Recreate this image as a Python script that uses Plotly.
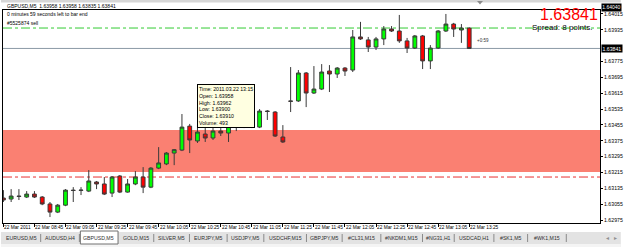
import plotly.graph_objects as go

# ---------------- data ----------------
times = ["08:25","08:30","08:35","08:40","08:45","08:50","08:55","09:00","09:05","09:10",
         "09:15","09:20","09:25","09:30","09:35","09:40","09:45","09:50","09:55","10:00",
         "10:05","10:10","10:15","10:20","10:25","10:30","10:35","10:40","10:45","10:50",
         "10:55","11:00","11:05","11:10","11:15","11:20","11:25","11:30","11:35","11:40",
         "11:45","11:50","11:55","12:00","12:05","12:10","12:15","12:20","12:25","12:30",
         "12:35","12:40","12:45","12:50","12:55","13:00","13:05","13:10","13:15","13:20","13:25"]

opens = [1.63086,1.63081,1.63096,1.63091,1.63106,1.63091,1.63056,1.63015,1.63050,1.63126,
         1.63124,1.63121,1.63167,1.63157,1.63111,1.63197,1.63116,1.63157,1.63192,1.63141,
         1.63237,1.63258,1.63313,1.63328,1.63449,1.63374,1.63409,1.63389,1.63424,1.63414,
         1.63465,1.63444,1.63465,1.63444,1.63525,1.63520,1.63394,1.63576,1.63576,1.63717,
         1.63616,1.63636,1.63727,1.63712,1.63742,1.63732,1.63899,1.63884,1.63848,1.63889,
         1.63939,1.63929,1.63879,1.63843,1.63904,1.63778,1.63843,1.63929,1.63964,1.63934,1.63944]
highs = [1.63126,1.63131,1.63131,1.63121,1.63121,1.63096,1.63066,1.63056,1.63131,1.63141,
         1.63141,1.63227,1.63172,1.63192,1.63197,1.63202,1.63182,1.63222,1.63242,1.63242,
         1.63343,1.63318,1.63333,1.63510,1.63460,1.63454,1.63439,1.63439,1.63439,1.63470,
         1.63470,1.63470,1.63475,1.63535,1.63530,1.63525,1.63454,1.63747,1.63732,1.63722,
         1.63752,1.63762,1.63757,1.63747,1.63747,1.63934,1.63975,1.63899,1.63899,1.63954,
         1.63954,1.64010,1.63894,1.63909,1.63909,1.63858,1.63934,1.64015,1.63970,1.63964,1.63948]
lows = [1.63066,1.63066,1.63076,1.63086,1.63086,1.63050,1.62990,1.63010,1.63045,1.63066,
        1.63101,1.63116,1.63131,1.63101,1.63091,1.63111,1.63113,1.63151,1.63111,1.63136,
        1.63232,1.63252,1.63252,1.63323,1.63313,1.63364,1.63369,1.63379,1.63399,1.63369,
        1.63424,1.63439,1.63439,1.63439,1.63480,1.63394,1.63364,1.63520,1.63571,1.63545,
        1.63611,1.63631,1.63621,1.63692,1.63702,1.63722,1.63884,1.63823,1.63833,1.63858,
        1.63924,1.63869,1.63818,1.63838,1.63737,1.63737,1.63838,1.63924,1.63899,1.63869,1.63838]
closes = [1.63076,1.63096,1.63094,1.63106,1.63091,1.63056,1.63015,1.63050,1.63126,1.63124,
          1.63126,1.63172,1.63157,1.63106,1.63192,1.63116,1.63157,1.63192,1.63141,1.63237,
          1.63263,1.63313,1.63330,1.63444,1.63379,1.63419,1.63389,1.63424,1.63414,1.63465,
          1.63444,1.63465,1.63449,1.63525,1.63523,1.63399,1.63369,1.63574,1.63717,1.63616,
          1.63636,1.63722,1.63712,1.63742,1.63727,1.63899,1.63889,1.63848,1.63889,1.63939,
          1.63929,1.63879,1.63843,1.63904,1.63778,1.63843,1.63929,1.63964,1.63939,1.63944,1.63841]

time_ticks = ["08:25","08:45","09:05","09:25","09:45","10:05","10:25","10:45",
              "11:05","11:25","11:45","12:05","12:25","12:45","13:05","13:25"]
time_tick_text = ["22 Mar 2011","22 Mar 08:45","22 Mar 09:05","22 Mar 09:25","22 Mar 09:45",
                  "22 Mar 10:05","22 Mar 10:25","22 Mar 10:45","22 Mar 11:05","22 Mar 11:25",
                  "22 Mar 11:45","22 Mar 12:05","22 Mar 12:25","22 Mar 12:45","22 Mar 13:05",
                  "22 Mar 13:25"]
price_ticks = [1.62975,1.63055,1.63135,1.63215,1.63295,1.63375,1.63455,1.63535,
               1.63615,1.63695,1.63775,1.63935,1.64015]
y_range = [1.62960, 1.64035]
bid_price = 1.63841
top_price = 1.64040
order_price = 1.63944
order_label = "#5525874 sell"
stop_price = 1.63192
zone_low, zone_high = 1.63217, 1.63429
timer_price = 1.63880
header_text = "GBPUSD,M5  1.63958 1.63958 1.63835 1.63841"
timer_text = "0 minutes 59 seconds left to bar end"
spread_text = "Spread: 8 points."
tooltip_lines = ["Time: 2011.03.22 13:15", "Open: 1.63958", "High: 1.63962",
                 "Low: 1.63900", "Close: 1.63910", "Volume: 493"]
tabs = ["EURUSD,M5","AUDUSD,H4","GBPUSD,M5","GOLD,M15","SILVER,M5","EURJPY,M5",
        "USDJPY,M5","USDCHF,M15","GBPJPY,M5","#CL31,M15","#NKDM1,M15","#NG31,H1",
        "USDCAD,H1","#SK1,M5","#WK1,M15"]
active_tab = "GBPUSD,M5"

# ---------------- layout geometry (pixels) ----------------
W, H = 625, 247
PL, PR, PT, PB = 2, 604, 10, 223
tab_edges = [2, 40, 79, 118, 154, 190, 228, 265, 308, 344, 383, 425, 457, 497, 531, 570]

def px_x(x):
    return (x - PL) / (PR - PL)

def px_y(y):
    return (PB - y) / (PB - PT)

FONT = "Liberation Sans, Arial, sans-serif"

fig = go.Figure()
fig.add_trace(go.Candlestick(
    x=times, open=opens, high=highs, low=lows, close=closes,
    increasing=dict(fillcolor="#00ff00", line=dict(color="#3a3a3a", width=1)),
    decreasing=dict(fillcolor="#ff0000", line=dict(color="#3a3a3a", width=1)),
    whiskerwidth=0, showlegend=False, hoverinfo="skip"))

shapes = []
shapes.append(dict(type="rect", xref="paper", yref="y", x0=0, x1=1, y0=zone_low, y1=zone_high,
                   fillcolor="#fa8072", line=dict(width=0), layer="below"))
shapes.append(dict(type="line", xref="paper", yref="y", x0=0, x1=1, y0=order_price, y1=order_price,
                   line=dict(color="#33cc33", width=1, dash="dashdot"), layer="below"))
shapes.append(dict(type="line", xref="paper", yref="y", x0=0, x1=1, y0=stop_price, y1=stop_price,
                   line=dict(color="#e83030", width=1, dash="dashdot"), layer="below"))
shapes.append(dict(type="line", xref="paper", yref="y", x0=0, x1=1, y0=bid_price, y1=bid_price,
                   line=dict(color="#8c9aa6", width=1), layer="below"))
shapes.append(dict(type="rect", xref="paper", yref="paper", x0=px_x(0), x1=px_x(W), y0=px_y(2.5), y1=px_y(0),
                   fillcolor="#d6d6d6", line=dict(width=0)))
mx = 483
shapes.append(dict(type="path", xref="paper", yref="paper",
                   path=f"M {px_x(mx-3)} {px_y(1)} L {px_x(mx+3)} {px_y(1)} L {px_x(mx)} {px_y(4.5)} Z",
                   fillcolor="#8a8a8a", line=dict(width=0)))
shapes.append(dict(type="rect", xref="paper", yref="paper", x0=px_x(0), x1=px_x(W), y0=px_y(H), y1=px_y(232),
                   fillcolor="#e3e3e3", line=dict(width=0)))
shapes.append(dict(type="rect", xref="paper", yref="paper", x0=px_x(0), x1=px_x(W), y0=px_y(H), y1=px_y(244),
                   fillcolor="#f4f4f4", line=dict(width=0)))
for i, name in enumerate(tabs):
    x0, x1 = tab_edges[i], tab_edges[i + 1]
    if name == active_tab:
        shapes.append(dict(type="rect", xref="paper", yref="paper", x0=px_x(x0 + 1), x1=px_x(x1),
                           y0=px_y(244), y1=px_y(231), fillcolor="#ffffff",
                           line=dict(color="#707070", width=1)))
    else:
        shapes.append(dict(type="line", xref="paper", yref="paper", x0=px_x(x1), x1=px_x(x1),
                           y0=px_y(242), y1=px_y(234), line=dict(color="#8a8a8a", width=1)))

annotations = []
def ann(**kw):
    base = dict(showarrow=False, font=dict(family=FONT, size=5, color="#000000"))
    if "font" in kw:
        base["font"].update(kw.pop("font"))
    base.update(kw)
    annotations.append(base)

ann(text=header_text, xref="paper", yref="paper", x=px_x(4), y=px_y(5.5), xanchor="left", yanchor="middle")
ann(text=timer_text, xref="paper", yref="paper", x=px_x(4), y=px_y(13.5), xanchor="left", yanchor="middle")
ann(text=order_label, xref="paper", yref="y", x=px_x(4), y=order_price, xanchor="left", yanchor="bottom")
ann(text="1.63841", xref="paper", yref="paper", x=px_x(604), y=px_y(14.5), xanchor="right", yanchor="middle",
    font=dict(size=16, color="#ff0000"))
ann(text=spread_text, xref="paper", yref="paper", x=px_x(598), y=px_y(27), xanchor="right", yanchor="middle",
    font=dict(size=8))
ann(text="+0:59", xref="x", yref="y", x=60.7, y=timer_price, xanchor="left", yanchor="middle",
    font=dict(size=4.5, color="#333333"))
ann(text="<br>".join(tooltip_lines), xref="paper", yref="paper", x=px_x(198), y=px_y(84),
    xanchor="left", yanchor="top", align="left", bgcolor="#ffffe1", bordercolor="#000000",
    borderwidth=1, borderpad=1, font=dict(size=5.2))
for t, lab in zip(time_ticks, time_tick_text):
    ann(text=lab, xref="x", yref="paper", x=t, y=px_y(228), xanchor="left", yanchor="middle",
        xshift=-1, font=dict(size=4.8))
# price boxes on axis
ann(text=f"{bid_price:.5f}", xref="paper", yref="y", x=px_x(605.5), y=bid_price,
    xanchor="left", yanchor="middle", bgcolor="#000000", borderpad=0.5,
    font=dict(size=5.2, color="#ffffff"))
ann(text=f"{top_price:.5f}", xref="paper", yref="paper", x=px_x(605.5), y=px_y(7),
    xanchor="left", yanchor="middle", bgcolor="#000000", borderpad=0.3,
    font=dict(size=5.0, color="#ffffff"))
# tabs
for i, name in enumerate(tabs):
    x0, x1 = tab_edges[i], tab_edges[i + 1]
    ann(text=name, xref="paper", yref="paper", x=px_x((x0 + x1) / 2), y=px_y(238),
        xanchor="center", yanchor="middle", font=dict(size=5.2, color="#303030"))
ann(text="◂", xref="paper", yref="paper", x=px_x(612), y=px_y(238), xanchor="center", yanchor="middle",
    font=dict(size=6, color="#909090"))
ann(text="▸", xref="paper", yref="paper", x=px_x(620), y=px_y(238), xanchor="center", yanchor="middle",
    font=dict(size=6, color="#909090"))

fig.update_layout(
    width=W, height=H,
    margin=dict(l=PL, r=W - PR, t=PT, b=H - PB, pad=0),
    paper_bgcolor="#ffffff", plot_bgcolor="#ffffff",
    shapes=shapes, annotations=annotations,
    showlegend=False, hovermode=False,
    xaxis=dict(type="category", range=[-0.05, 76.85], rangeslider=dict(visible=False),
               showgrid=False, zeroline=False, showline=True, linecolor="#000000", linewidth=1,
               mirror=True, tickvals=time_ticks, showticklabels=False, ticks="outside",
               ticklen=3, tickcolor="#000000", fixedrange=True),
    yaxis=dict(side="right", range=y_range, showgrid=False, zeroline=False, showline=True,
               linecolor="#000000", linewidth=1, mirror=True, tickvals=price_ticks,
               ticktext=[f"{v:.5f}" for v in price_ticks], ticks="outside", ticklen=2,
               tickcolor="#000000", tickfont=dict(family=FONT, size=5.2, color="#000000"),
               fixedrange=True),
)

fig.write_html("out.html")
